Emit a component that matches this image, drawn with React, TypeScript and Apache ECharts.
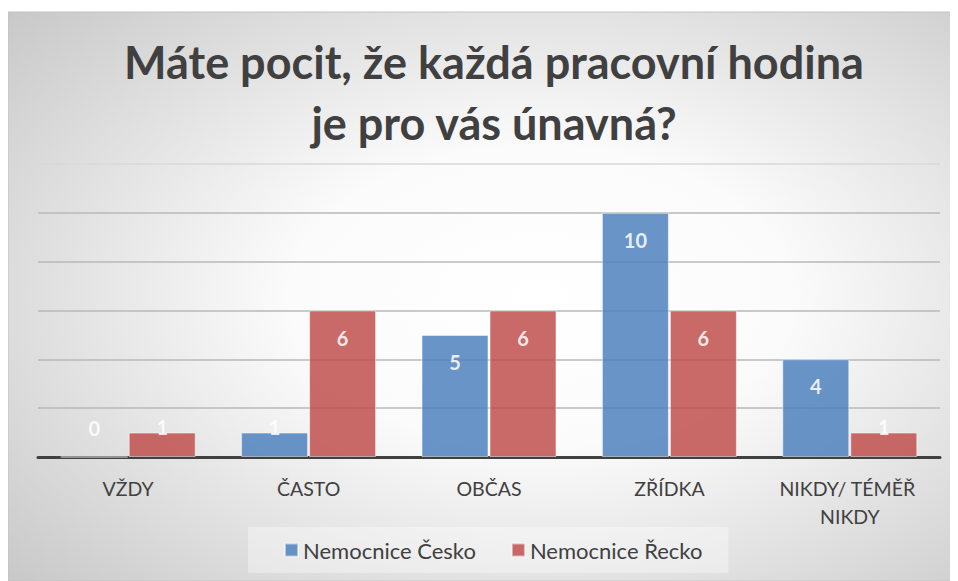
import React, { useEffect, useRef } from "react";
import * as echarts from "echarts";

const titleLines = ["Máte pocit, že každá pracovní hodina", "je pro vás únavná?"];
const categories = ["VŽDY", "ČASTO", "OBČAS", "ZŘÍDKA", "NIKDY/ TÉMĚŘ NIKDY"];
const seriesNames = ["Nemocnice Česko", "Nemocnice Řecko"];
const czValues = [0, 1, 5, 10, 4];
const grValues = [1, 6, 6, 6, 1];
const yTicks = [0, 2, 4, 6, 8, 10, 12];

const FONT = "Lato, 'Open Sans', sans-serif";
const TEXT = "#404040";

export default function App() {
  const ref = useRef<HTMLDivElement>(null);
  useEffect(() => {
    if (!ref.current) return;
    const chart = echarts.init(ref.current, undefined, { renderer: "svg" });
    const mkData = (vals: number[]) =>
      vals.map((v) =>
        v <= 1
          ? { value: v, label: { position: "insideBottom", distance: 20 } }
          : { value: v }
      );
    const barLabel = {
      show: true,
      position: "insideTop",
      distance: 17,
      color: "#ffffff",
      fontFamily: FONT,
      fontWeight: "bold",
      fontSize: 20,
    };
    const gridColors = yTicks.map((t, i) => (i === yTicks.length - 1 ? "#d8d8d8" : "#b8b8b8"));
    chart.setOption({
      animation: false,
      graphic: [
        {
          type: "rect",
          z: -10,
          silent: true,
          shape: { x: 0, y: 4, width: 950, height: 569 },
          style: {
            fill: {
              type: "radial",
              x: 0.56,
              y: 0.5,
              r: 0.75,
              colorStops: [
                { offset: 0, color: "#ffffff" },
                { offset: 0.35, color: "#fbfbfb" },
                { offset: 1, color: "#c8c8c8" },
              ],
            },
            stroke: "#c2c2c2",
            lineWidth: 1,
          },
        },
      ],
      title: {
        text: titleLines.join("\n"),
        left: 481,
        top: 18,
        textAlign: "center",
        textStyle: {
          fontFamily: FONT,
          fontWeight: "bold",
          fontSize: 45,
          lineHeight: 61,
          color: TEXT,
        },
      },
      grid: { left: 30, right: 18, top: 156, bottom: 124, containLabel: false },
      xAxis: {
        type: "category",
        data: categories,
        axisLine: { show: true, lineStyle: { color: "#404040", width: 3 } },
        axisTick: { show: false },
        axisLabel: {
          interval: 0,
          margin: 17,
          color: TEXT,
          fontFamily: FONT,
          fontSize: 19.5,
          lineHeight: 28,
          width: 176,
          overflow: "break",
        },
      },
      yAxis: {
        type: "value",
        min: 0,
        max: 12,
        interval: 2,
        axisLabel: { show: false },
        axisLine: { show: false },
        axisTick: { show: false },
        splitLine: { show: true, lineStyle: { color: gridColors, width: 1.5 } },
      },
      legend: {
        data: seriesNames,
        left: 240,
        top: 519,
        orient: "horizontal",
        icon: "rect",
        itemWidth: 13,
        itemHeight: 13,
        itemGap: 35,
        padding: [12, 26, 12, 36],
        backgroundColor: "rgba(255,255,255,0.35)",
        textStyle: { fontFamily: FONT, fontSize: 22, color: TEXT },
      },
      series: [
        {
          name: seriesNames[0],
          type: "bar",
          data: mkData(czValues),
          barWidth: 67,
          barGap: "1.5%",
          itemStyle: {
            color: "#4F81BD",
            opacity: 0.85,
            borderColor: "rgba(255,255,255,0.6)",
            borderWidth: 1,
          },
          label: barLabel,
        },
        {
          name: seriesNames[1],
          type: "bar",
          data: mkData(grValues),
          barWidth: 67,
          barGap: "1.5%",
          itemStyle: {
            color: "#C0504D",
            opacity: 0.85,
            borderColor: "rgba(255,255,255,0.6)",
            borderWidth: 1,
          },
          label: barLabel,
        },
      ],
    });
    return () => chart.dispose();
  }, []);
  return <div ref={ref} style={{ width: 950, height: 573 }} />;
}
